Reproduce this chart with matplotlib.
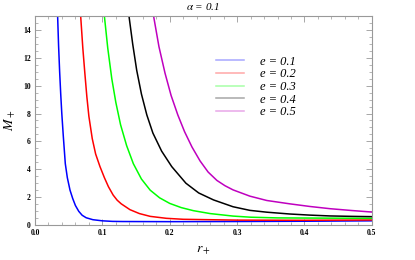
import numpy as np
import matplotlib
matplotlib.use('Agg')
import matplotlib.pyplot as plt
from matplotlib.ticker import MultipleLocator, FormatStrFormatter

# values (r_+, M_+)
r_e1 = [0.0336, 0.035, 0.0366, 0.0382, 0.0398, 0.042, 0.045, 0.048, 0.052, 0.056, 0.06, 0.065, 0.07, 0.076, 0.086, 0.1, 0.115, 0.13, 0.2, 0.3, 0.4, 0.5]
m_e1 = [15.0, 12.9, 11.0, 9.4, 8.0, 6.4, 4.4, 3.4, 2.5, 1.9, 1.4, 0.98, 0.7, 0.52, 0.38, 0.3, 0.26, 0.25, 0.24, 0.25, 0.27, 0.3]

r_e2 = [0.0678, 0.071, 0.074, 0.077, 0.080, 0.085, 0.09, 0.0964, 0.103, 0.109, 0.116, 0.122, 0.128, 0.141, 0.155, 0.171, 0.195, 0.22, 0.3, 0.4, 0.5]
m_e2 = [15.0, 12.7, 10.9, 9.2, 7.8, 6.2, 5.1, 4.2, 3.4, 2.75, 2.15, 1.78, 1.52, 1.1, 0.82, 0.62, 0.48, 0.41, 0.35, 0.34, 0.36]

r_e3 = [0.103, 0.108, 0.114, 0.12, 0.127, 0.136, 0.146, 0.158, 0.171, 0.185, 0.2, 0.217, 0.235, 0.26, 0.294, 0.32, 0.36, 0.4, 0.5]
m_e3 = [15.0, 12.7, 10.5, 8.8, 7.2, 5.7, 4.4, 3.3, 2.5, 1.95, 1.55, 1.25, 1.03, 0.82, 0.64, 0.56, 0.51, 0.5, 0.48]

r_e4 = [0.1395, 0.145, 0.151, 0.158, 0.166, 0.175, 0.188, 0.203, 0.224, 0.243, 0.265, 0.294, 0.319, 0.344, 0.378, 0.408, 0.438, 0.47, 0.5]
m_e4 = [15.0, 13.0, 11.1, 9.4, 7.9, 6.6, 5.3, 4.19, 3.0, 2.3, 1.8, 1.31, 1.05, 0.92, 0.79, 0.71, 0.65, 0.62, 0.6]

r_e5 = [0.176, 0.184, 0.193, 0.202, 0.212, 0.222, 0.233, 0.245, 0.257, 0.27, 0.282, 0.294, 0.319, 0.344, 0.378, 0.408, 0.438, 0.47, 0.5]
m_e5 = [15.0, 12.8, 10.9, 9.3, 7.9, 6.7, 5.6, 4.6, 3.8, 3.2, 2.82, 2.52, 2.07, 1.76, 1.52, 1.33, 1.17, 1.04, 0.93]

labels = ['e = 0.1', 'e = 0.2', 'e = 0.3', 'e = 0.4', 'e = 0.5']
colors = ['#0000ff', '#ff0000', '#00ff00', '#000000', '#bf00bf']
series = [(r_e1, m_e1), (r_e2, m_e2), (r_e3, m_e3), (r_e4, m_e4), (r_e5, m_e5)]

plt.rcParams['font.family'] = ['Liberation Serif', 'DejaVu Serif']
plt.rcParams['mathtext.fontset'] = 'stix'

fig = plt.figure(figsize=(4.15, 2.6), dpi=100)
ax = fig.add_axes([0.0843, 0.1346, 0.8117, 0.8039])

for (r, m), c in zip(series, colors):
    ax.plot(r, m, color=c, lw=1.1, solid_joinstyle='round')

ax.set_xlim(0, 0.5)
ax.set_ylim(0, 15)
ax.xaxis.set_major_locator(MultipleLocator(0.1))
ax.xaxis.set_minor_locator(MultipleLocator(0.02))
ax.yaxis.set_major_locator(MultipleLocator(2))
ax.yaxis.set_minor_locator(MultipleLocator(0.5))
ax.xaxis.set_major_formatter(FormatStrFormatter('%.1f'))
ax.tick_params(which='both', direction='in', top=True, right=True, color='#999999', labelsize=5.5, pad=3)
ax.tick_params(which='major', length=4, width=0.6)
ax.tick_params(which='minor', length=2, width=0.5)
for lab in ax.get_xticklabels() + ax.get_yticklabels():
    lab.set_fontweight('bold')
for sp in ax.spines.values():
    sp.set_color('#999999')
    sp.set_linewidth(0.8)

ax.set_xlabel(r'$r_+$', fontsize=10, labelpad=5)
ax.set_ylabel(r'$M_+$', fontsize=10, labelpad=4)
ax.set_title(r'$\alpha$ = 0.1', fontsize=8, style='italic', pad=4)

handles = [plt.Line2D([], [], color=c, lw=1.1, alpha=0.35) for c in colors]
leg = ax.legend(handles, labels, loc='upper left', bbox_to_anchor=(0.52, 0.84), frameon=False,
                prop={'style': 'italic', 'size': 9}, handlelength=2.2, handletextpad=1.3,
                labelspacing=0.05, borderpad=0)

fig.savefig('out.png', dpi=100)
